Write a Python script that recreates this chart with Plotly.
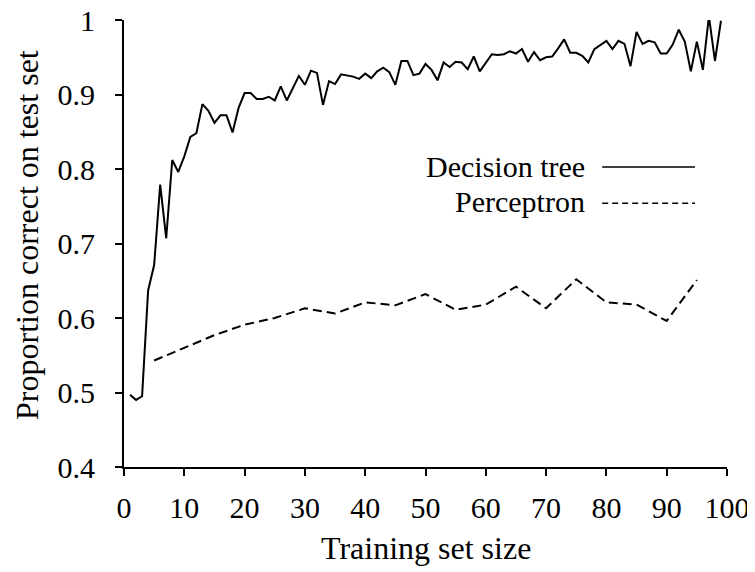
import plotly.graph_objects as go

# ---- data ----
tree_x = list(range(1, 100))
tree_y = [
    0.497, 0.490, 0.495, 0.637, 0.671, 0.779, 0.707, 0.812, 0.796, 0.817,
    0.843, 0.848, 0.887, 0.878, 0.862, 0.872, 0.872, 0.849, 0.882, 0.902,
    0.902, 0.894, 0.894, 0.897, 0.892, 0.911, 0.892, 0.908, 0.925, 0.913,
    0.932, 0.929, 0.886, 0.918, 0.914, 0.927, 0.926, 0.924, 0.921, 0.928,
    0.922, 0.931, 0.936, 0.930, 0.913, 0.945, 0.945, 0.926, 0.928, 0.941,
    0.933, 0.919, 0.943, 0.937, 0.944, 0.943, 0.934, 0.951, 0.931, 0.942,
    0.954, 0.953, 0.954, 0.958, 0.955, 0.961, 0.944, 0.957, 0.946, 0.950,
    0.951, 0.962, 0.974, 0.956, 0.956, 0.952, 0.943, 0.961, 0.967, 0.972,
    0.961, 0.972, 0.968, 0.938, 0.984, 0.968, 0.972, 0.970, 0.955, 0.955,
    0.967, 0.987, 0.971, 0.931, 0.971, 0.933, 1.005, 0.945, 0.999,
]
perc_x = [5, 10, 15, 20, 25, 30, 35, 40, 45, 50, 55, 60, 65, 70, 75, 80, 85, 90, 95]
perc_y = [0.543, 0.560, 0.577, 0.591, 0.600, 0.613, 0.606, 0.621, 0.617, 0.632,
          0.611, 0.618, 0.642, 0.613, 0.652, 0.621, 0.618, 0.596, 0.651]
x_ticks = [0, 10, 20, 30, 40, 50, 60, 70, 80, 90, 100]
y_ticks = [0.4, 0.5, 0.6, 0.7, 0.8, 0.9, 1.0]
y_tick_labels = ["0.4", "0.5", "0.6", "0.7", "0.8", "0.9", "1"]
series_names = ["Decision tree", "Perceptron"]
x_title = "Training set size"
y_title = "Proportion correct on test set"

FONT = "Liberation Serif, Times New Roman, Times, serif"
FS = 30
FS_TITLE = 32

fig = go.Figure()
fig.add_trace(go.Scatter(x=tree_x, y=tree_y, mode="lines", name=series_names[0],
                         line=dict(color="black", width=2), showlegend=False))
fig.add_trace(go.Scatter(x=perc_x, y=perc_y, mode="lines", name=series_names[1],
                         line=dict(color="black", width=2, dash="9px,5px"), showlegend=False))

# the page body adds an 8px offset, so the figure is 8px smaller than the window
fig.update_layout(
    width=747, height=564,
    margin=dict(l=116, r=28, t=12, b=105, autoexpand=False),
    paper_bgcolor="white", plot_bgcolor="white",
    font=dict(family=FONT, size=FS, color="black"),
    xaxis=dict(range=[0, 100], tickvals=x_ticks, showgrid=False, zeroline=False,
               showline=True, linecolor="black", linewidth=2, automargin=False,
               ticks="outside", ticklen=7, tickwidth=2, tickcolor="black",
               ticklabelstandoff=6, ticklabeloverflow="allow"),
    yaxis=dict(range=[0.4, 1.0], tickvals=y_ticks, ticktext=y_tick_labels,
               showgrid=False, zeroline=False, automargin=False,
               showline=True, linecolor="black", linewidth=2,
               ticks="outside", ticklen=7, tickwidth=2, tickcolor="black",
               ticklabelstandoff=14, ticklabeloverflow="allow"),
)

# axis titles
fig.add_annotation(text=y_title, xref="paper", yref="paper", x=-0.161, y=0.519,
                   textangle=-90, showarrow=False, xanchor="center", yanchor="middle",
                   font=dict(family=FONT, size=FS_TITLE))
fig.add_annotation(text=x_title, xref="paper", yref="paper", x=0.5, y=-0.182,
                   showarrow=False, xanchor="center", yanchor="middle",
                   font=dict(family=FONT, size=FS_TITLE))

# legend (text left, sample line right)
leg_y = [0.673, 0.595]
line_y = [0.671, 0.590]
leg_dash = ["solid", "6px,4px"]
for name, ly, lly, dsh in zip(series_names, leg_y, line_y, leg_dash):
    fig.add_annotation(text=name, xref="paper", yref="paper", x=0.767, y=ly,
                       showarrow=False, xanchor="right", yanchor="middle",
                       font=dict(family=FONT, size=FS))
    fig.add_shape(type="line", xref="paper", yref="paper", x0=0.793, x1=0.947,
                  y0=lly, y1=lly, line=dict(color="black", width=1.5, dash=dsh))

fig.write_html("out.html")
